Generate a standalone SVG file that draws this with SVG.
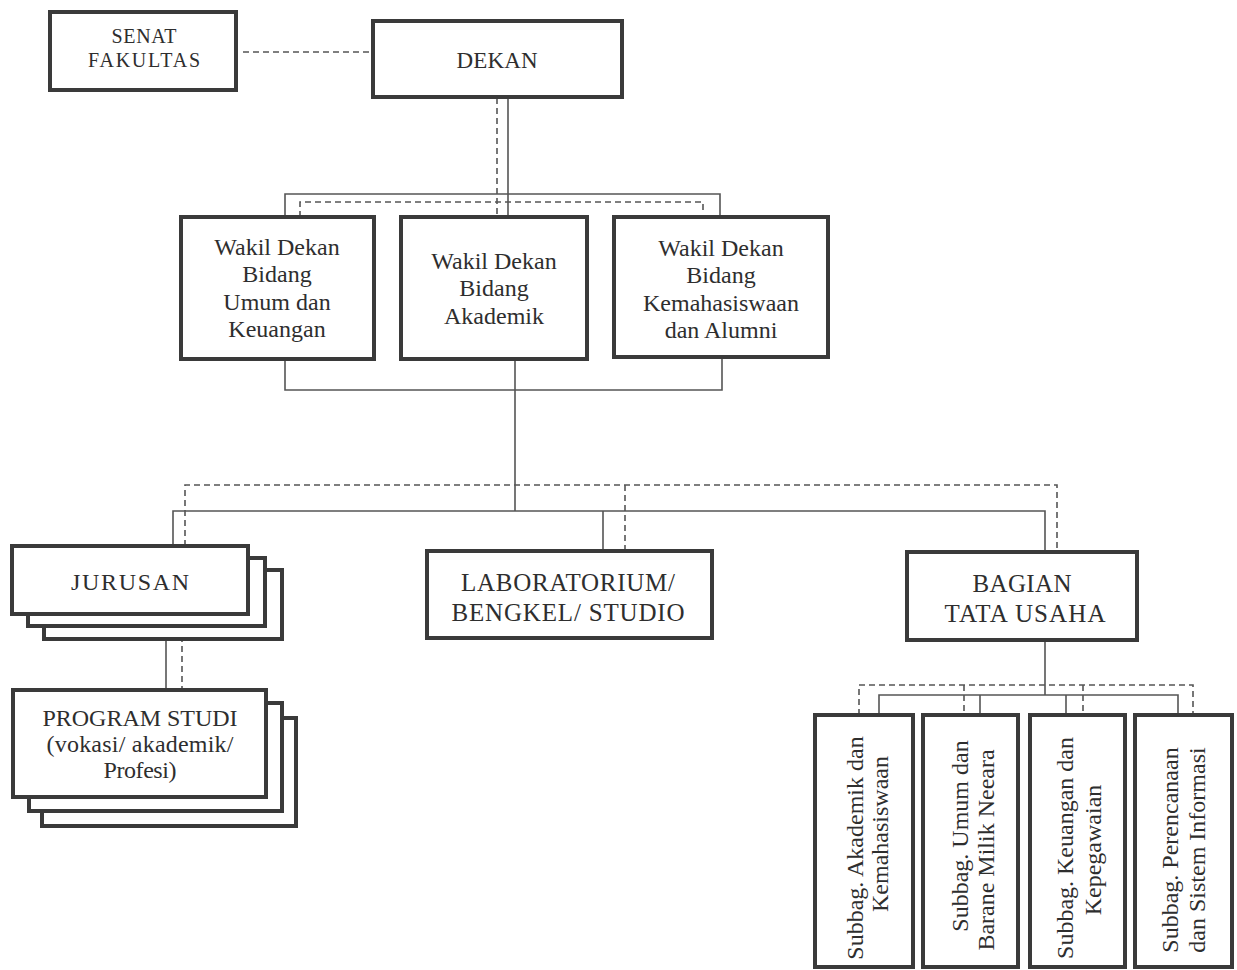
<svg xmlns="http://www.w3.org/2000/svg" width="1237" height="970" viewBox="0 0 1237 970">
<style>
.box{fill:#fff;stroke:#3a3a3a;stroke-width:4}
.t{font-family:"Liberation Serif","Times New Roman",serif;fill:#2e2e2e;text-anchor:middle}
.s{fill:none;stroke:#555;stroke-width:1.6}
.d{fill:none;stroke:#555;stroke-width:1.6;stroke-dasharray:6 4}
</style>
<rect width="1237" height="970" fill="#fff"/>
<g id="connectors">
<path class="d" d="M243 52H370"/>
<path class="d" d="M497 98V217M300 217V202H703V213"/>
<path class="s" d="M508 98V217M285 217V194H720V217"/>
<path class="s" d="M285 359V390H722V357M515 359V511"/>
<path class="d" d="M185 546V485H1057V549M625 485V550"/>
<path class="s" d="M173 546V511H1045V551M603 511V550"/>
<path class="s" d="M166 639V689"/>
<path class="d" d="M182 626V689"/>
<path class="s" d="M1045 640V695M879 715V695H1178V715M980 695V715M1066 695V715"/>
<path class="d" d="M859 715V685H1193V715M964 685V715M1083 685V715"/>
</g>
<g id="senat">
<rect class="box" x="50" y="12" width="186" height="78"/>
<text class="t" font-size="20" x="144" y="43" textLength="65">SENAT</text>
<text class="t" font-size="20" x="144" y="67" textLength="112">FAKULTAS</text>
</g>
<g id="dekan">
<rect class="box" x="373" y="21" width="249" height="76"/>
<text class="t" font-size="23" x="497" y="68" textLength="81">DEKAN</text>
</g>
<g id="wd1">
<rect class="box" x="181" y="217" width="193" height="142"/>
<text class="t" font-size="24" x="277"><tspan x="277" y="255">Wakil Dekan</tspan><tspan x="277" y="282">Bidang</tspan><tspan x="277" y="310">Umum dan</tspan><tspan x="277" y="337">Keuangan</tspan></text>
</g>
<g id="wd2">
<rect class="box" x="401" y="217" width="186" height="142"/>
<text class="t" font-size="24" x="494"><tspan x="494" y="269">Wakil Dekan</tspan><tspan x="494" y="296">Bidang</tspan><tspan x="494" y="324">Akademik</tspan></text>
</g>
<g id="wd3">
<rect class="box" x="614" y="217" width="214" height="140"/>
<text class="t" font-size="24" x="721"><tspan x="721" y="256">Wakil Dekan</tspan><tspan x="721" y="283">Bidang</tspan><tspan x="721" y="311">Kemahasiswaan</tspan><tspan x="721" y="338">dan Alumni</tspan></text>
</g>
<g id="jurusan">
<rect class="box" x="44" y="570" width="238" height="69"/>
<rect class="box" x="28" y="558" width="237" height="68"/>
<rect class="box" x="12" y="546" width="236" height="68"/>
<text class="t" font-size="24" x="130" y="590" textLength="118">JURUSAN</text>
</g>
<g id="prodi">
<rect class="box" x="42" y="718" width="254" height="108"/>
<rect class="box" x="29" y="703" width="253" height="108"/>
<rect class="box" x="13" y="690" width="253" height="107"/>
<text class="t" font-size="24" x="140" y="726" textLength="195">PROGRAM STUDI</text>
<text class="t" font-size="24" x="140" y="752" textLength="187">(vokasi/ akademik/</text>
<text class="t" font-size="24" x="140" y="778" textLength="73">Profesi)</text>
</g>
<g id="lab">
<rect class="box" x="427" y="551" width="285" height="87"/>
<text class="t" font-size="25" x="568" y="591" textLength="214">LABORATORIUM/</text>
<text class="t" font-size="25" x="568" y="621" textLength="233">BENGKEL/ STUDIO</text>
</g>
<g id="bagian">
<rect class="box" x="907" y="552" width="230" height="88"/>
<text class="t" font-size="25" x="1022" y="592" textLength="99">BAGIAN</text>
<text class="t" font-size="25" x="1025" y="622" textLength="161">TATA USAHA</text>
</g>
<g id="subbag1">
<rect class="box" x="815" y="715" width="98" height="252"/>
<text class="t" font-size="24" transform="translate(863 848) rotate(-90)">Subbag. Akademik dan</text>
<text class="t" font-size="24" transform="translate(888 834) rotate(-90)">Kemahasiswaan</text>
</g>
<g id="subbag2">
<rect class="box" x="923" y="715" width="95" height="252"/>
<text class="t" font-size="24" transform="translate(968 836) rotate(-90)">Subbag. Umum dan</text>
<text class="t" font-size="24" transform="translate(994 850) rotate(-90)">Barane Milik Neeara</text>
</g>
<g id="subbag3">
<rect class="box" x="1030" y="715" width="95" height="252"/>
<text class="t" font-size="24" transform="translate(1073 848) rotate(-90)">Subbag. Keuangan dan</text>
<text class="t" font-size="24" transform="translate(1101 850) rotate(-90)">Kepegawaian</text>
</g>
<g id="subbag4">
<rect class="box" x="1135" y="715" width="97" height="252"/>
<text class="t" font-size="24" transform="translate(1178 850) rotate(-90)">Subbag. Perencanaan</text>
<text class="t" font-size="24" transform="translate(1205 850) rotate(-90)">dan Sistem Informasi</text>
</g>
</svg>
